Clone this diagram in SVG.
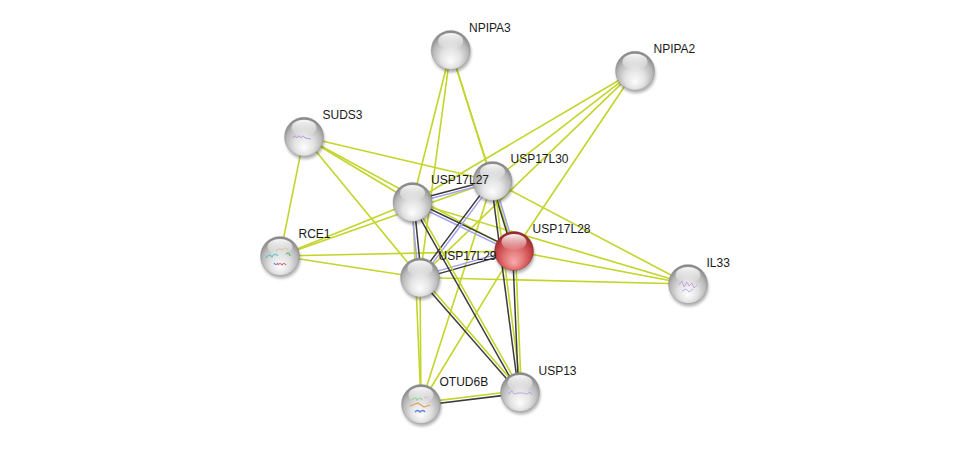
<svg xmlns="http://www.w3.org/2000/svg" width="975" height="449" viewBox="0 0 975 449">
<style>
.tm{stroke:#c3d52a;stroke-width:1.6;fill:none}
.ce{stroke:#3c3c3c;stroke-width:1.5;fill:none}
.ho{stroke:#a3a3f2;stroke-width:1.5;fill:none}
.lbl{font-family:"Liberation Sans",Arial,sans-serif;font-size:12px;fill:#1a1a1a}
.g{fill:url(#gray)}
.r{fill:url(#red)}
.hl{fill:url(#shine)}
.sh{fill:#000;opacity:0.3;filter:url(#blur)}
.rim{fill:none;stroke:#7e7e7e;stroke-width:0.8;opacity:0.35}
</style>
<defs>
<radialGradient id="gray" cx="0.5" cy="0.6" r="0.56" fx="0.5" fy="0.8">
<stop offset="0" stop-color="#fdfdfd"/>
<stop offset="0.45" stop-color="#e3e3e3"/>
<stop offset="0.8" stop-color="#b8b8b8"/>
<stop offset="1" stop-color="#8a8a8a"/>
</radialGradient>
<radialGradient id="red" cx="0.5" cy="0.6" r="0.56" fx="0.5" fy="0.8">
<stop offset="0" stop-color="#f7adad"/>
<stop offset="0.45" stop-color="#e27475"/>
<stop offset="0.8" stop-color="#c64246"/>
<stop offset="1" stop-color="#962b2e"/>
</radialGradient>
<linearGradient id="shine" x1="0" y1="0" x2="0" y2="1">
<stop offset="0" stop-color="#ffffff" stop-opacity="0.95"/>
<stop offset="1" stop-color="#ffffff" stop-opacity="0.05"/>
</linearGradient>
<filter id="blur" x="-50%" y="-50%" width="200%" height="200%">
<feGaussianBlur stdDeviation="1.8"/>
</filter>
</defs>
<rect width="975" height="449" fill="#ffffff"/>
<g id="edges">
<line class="tm" x1="450.7" y1="50" x2="412.5" y2="202"/>
<line class="tm" x1="450.7" y1="50" x2="420" y2="277.5"/>
<line class="tm" x1="450.7" y1="50" x2="492.5" y2="181"/>
<line class="tm" x1="450.7" y1="50" x2="514" y2="251"/>
<line class="tm" x1="635" y1="70.7" x2="412.5" y2="202"/>
<line class="tm" x1="635" y1="70.7" x2="492.5" y2="181"/>
<line class="tm" x1="635" y1="70.7" x2="420" y2="277.5"/>
<line class="tm" x1="635" y1="70.7" x2="514" y2="251"/>
<line class="tm" x1="304" y1="136.7" x2="280" y2="256"/>
<line class="tm" x1="304" y1="136.7" x2="492.5" y2="181"/>
<line class="tm" x1="304" y1="136.7" x2="412.5" y2="202"/>
<line class="tm" x1="304" y1="136.7" x2="514" y2="251"/>
<line class="tm" x1="304" y1="136.7" x2="420" y2="277.5"/>
<line class="tm" x1="280" y1="256" x2="412.5" y2="202"/>
<line class="tm" x1="280" y1="256" x2="492.5" y2="181"/>
<line class="tm" x1="280" y1="256" x2="514" y2="251"/>
<line class="tm" x1="280" y1="256" x2="420" y2="277.5"/>
<line class="tm" x1="688" y1="284" x2="492.5" y2="181"/>
<line class="tm" x1="688" y1="284" x2="412.5" y2="202"/>
<line class="tm" x1="688" y1="284" x2="514" y2="251"/>
<line class="tm" x1="688" y1="284" x2="420" y2="277.5"/>
<line class="tm" x1="421" y1="404" x2="412.5" y2="202"/>
<line class="tm" x1="421" y1="404" x2="420" y2="277.5"/>
<line class="tm" x1="421" y1="404" x2="492.5" y2="181"/>
<line class="tm" x1="421" y1="404" x2="514" y2="251"/>
<line class="ce" x1="412.14" y1="200.65" x2="492.14" y2="179.65"/>
<line class="ho" x1="412.86" y1="203.35" x2="492.86" y2="182.35"/>
<line class="ce" x1="413.11" y1="200.74" x2="514.61" y2="249.74"/>
<line class="ho" x1="411.89" y1="203.26" x2="513.39" y2="252.26"/>
<line class="ho" x1="411.11" y1="202.14" x2="418.61" y2="277.64"/>
<line class="ce" x1="413.89" y1="201.86" x2="421.39" y2="277.36"/>
<line class="ce" x1="491.38" y1="180.16" x2="418.88" y2="276.66"/>
<line class="ho" x1="493.62" y1="181.84" x2="421.12" y2="278.34"/>
<line class="ho" x1="419.62" y1="276.15" x2="513.62" y2="249.65"/>
<line class="ce" x1="420.38" y1="278.85" x2="514.38" y2="252.35"/>
<line class="ce" x1="491.16" y1="181.41" x2="512.66" y2="251.41"/>
<line class="ho" x1="493.84" y1="180.59" x2="515.34" y2="250.59"/>
<line class="ce" x1="411.28" y1="202.69" x2="518.78" y2="392.69"/>
<line class="tm" x1="413.72" y1="201.31" x2="521.22" y2="391.31"/>
<line class="ce" x1="418.95" y1="278.42" x2="518.95" y2="392.92"/>
<line class="tm" x1="421.05" y1="276.58" x2="521.05" y2="391.08"/>
<line class="ce" x1="491.11" y1="181.18" x2="518.61" y2="392.18"/>
<line class="tm" x1="493.89" y1="180.82" x2="521.39" y2="391.82"/>
<line class="ce" x1="512.6" y1="251.06" x2="518.6" y2="392.06"/>
<line class="tm" x1="515.4" y1="250.94" x2="521.4" y2="391.94"/>
<line class="tm" x1="420.83" y1="402.61" x2="519.83" y2="390.61"/>
<line class="ce" x1="421.17" y1="405.39" x2="520.17" y2="393.39"/>
</g>
<g id="node-NPIPA3">
<circle class="sh" cx="451.7" cy="53" r="19.5"/>
<circle class="g" cx="450.7" cy="50" r="19.5"/>
<circle class="rim" cx="450.7" cy="50" r="19.5"/>
<ellipse class="hl" cx="450.7" cy="41" rx="12.5" ry="8"/>
<text class="lbl" x="469" y="32">NPIPA3</text>
</g>
<g id="node-NPIPA2">
<circle class="sh" cx="636" cy="73.7" r="19.5"/>
<circle class="g" cx="635" cy="70.7" r="19.5"/>
<circle class="rim" cx="635" cy="70.7" r="19.5"/>
<ellipse class="hl" cx="635" cy="61.7" rx="12.5" ry="8"/>
<text class="lbl" x="653.5" y="52.7">NPIPA2</text>
</g>
<g id="node-SUDS3">
<circle class="sh" cx="305" cy="139.7" r="19.5"/>
<circle class="g" cx="304" cy="136.7" r="19.5"/>
<circle class="rim" cx="304" cy="136.7" r="19.5"/>
<path d="M293 138 q2 -4 4 0 q2 -4 4 0 q2 -4 4 0 l6 1" fill="none" stroke="#b08ae0" stroke-width="1" opacity="0.8"/>
<ellipse class="hl" cx="304" cy="127.7" rx="12.5" ry="8"/>
<text class="lbl" x="322.5" y="119">SUDS3</text>
</g>
<g id="node-USP17L30">
<circle class="sh" cx="493.5" cy="184" r="19.5"/>
<circle class="g" cx="492.5" cy="181" r="19.5"/>
<circle class="rim" cx="492.5" cy="181" r="19.5"/>
<ellipse class="hl" cx="492.5" cy="172" rx="12.5" ry="8"/>
<text class="lbl" x="510.5" y="163">USP17L30</text>
</g>
<g id="node-USP17L27">
<circle class="sh" cx="413.5" cy="205" r="19.5"/>
<circle class="g" cx="412.5" cy="202" r="19.5"/>
<circle class="rim" cx="412.5" cy="202" r="19.5"/>
<ellipse class="hl" cx="412.5" cy="193" rx="12.5" ry="8"/>
<text class="lbl" x="431" y="184">USP17L27</text>
</g>
<g id="node-USP17L28">
<circle class="sh" cx="515" cy="254" r="19.5"/>
<circle class="r" cx="514" cy="251" r="19.5"/>
<circle class="rim" cx="514" cy="251" r="19.5" style="stroke:#7a2224"/>
<ellipse class="hl" cx="514" cy="242" rx="12.5" ry="8"/>
<text class="lbl" x="532.5" y="233">USP17L28</text>
</g>
<g id="node-RCE1">
<circle class="sh" cx="281" cy="259" r="19.5"/>
<circle class="g" cx="280" cy="256" r="19.5"/>
<circle class="rim" cx="280" cy="256" r="19.5"/>
<path d="M266 258 q3 -5 6 -1 q3 -5 6 -1" fill="none" stroke="#40c0c0" stroke-width="1.2" opacity="0.8"/>
<path d="M276 251 q3 -4 6 -1 q3 -4 6 0" fill="none" stroke="#c0a050" stroke-width="1.2" opacity="0.8"/>
<path d="M286 254 q3 -3 4 2" fill="none" stroke="#40b040" stroke-width="1.2" opacity="0.8"/>
<path d="M278 265 q2 -3 4 0 q2 -3 4 0" fill="none" stroke="#d04040" stroke-width="1.2" opacity="0.8"/>
<path d="M274 263 q2 3 4 0" fill="none" stroke="#4050d0" stroke-width="1.2" opacity="0.8"/>
<ellipse class="hl" cx="280" cy="247" rx="12.5" ry="8"/>
<text class="lbl" x="298.5" y="238">RCE1</text>
</g>
<g id="node-USP17L29">
<circle class="sh" cx="421" cy="280.5" r="19.5"/>
<circle class="g" cx="420" cy="277.5" r="19.5"/>
<circle class="rim" cx="420" cy="277.5" r="19.5"/>
<ellipse class="hl" cx="420" cy="268.5" rx="12.5" ry="8"/>
<text class="lbl" x="438.5" y="260">USP17L29</text>
</g>
<g id="node-IL33">
<circle class="sh" cx="689" cy="287" r="19.5"/>
<circle class="g" cx="688" cy="284" r="19.5"/>
<circle class="rim" cx="688" cy="284" r="19.5"/>
<path d="M679 285 l3 -4 l2 6 l3 -5 l2 4 l3 -3 l2 5 l3 -3 M682 291 l4 -2 l3 3 l4 -3" fill="none" stroke="#b08ae0" stroke-width="0.9" opacity="0.75"/>
<ellipse class="hl" cx="688" cy="275" rx="12.5" ry="8"/>
<text class="lbl" x="706.5" y="267">IL33</text>
</g>
<g id="node-OTUD6B">
<circle class="sh" cx="422" cy="407" r="19.5"/>
<circle class="g" cx="421" cy="404" r="19.5"/>
<circle class="rim" cx="421" cy="404" r="19.5"/>
<path d="M412 400 q3 -4 5 0 q3 -4 5 0" fill="none" stroke="#50c050" stroke-width="1.2" opacity="0.8"/>
<path d="M410 406 l8 -3 l6 4 l6 -2" fill="none" stroke="#e09040" stroke-width="1.2" opacity="0.8"/>
<path d="M415 412 q3 -3 5 0 q3 -3 5 0" fill="none" stroke="#4060d0" stroke-width="1.4" opacity="0.8"/>
<path d="M424 398 q2 -3 4 0" fill="none" stroke="#e060c0" stroke-width="1" opacity="0.8"/>
<ellipse class="hl" cx="421" cy="395" rx="12.5" ry="8"/>
<text class="lbl" x="439.5" y="386">OTUD6B</text>
</g>
<g id="node-USP13">
<circle class="sh" cx="521" cy="395" r="19.5"/>
<circle class="g" cx="520" cy="392" r="19.5"/>
<circle class="rim" cx="520" cy="392" r="19.5"/>
<path d="M508 394 l4 -3 l2 3 l4 -1 l5 0 l4 1 l3 -2 l2 3" fill="none" stroke="#b08ae0" stroke-width="0.9" opacity="0.75"/>
<ellipse class="hl" cx="520" cy="383" rx="12.5" ry="8"/>
<text class="lbl" x="538.5" y="375">USP13</text>
</g>
</svg>
